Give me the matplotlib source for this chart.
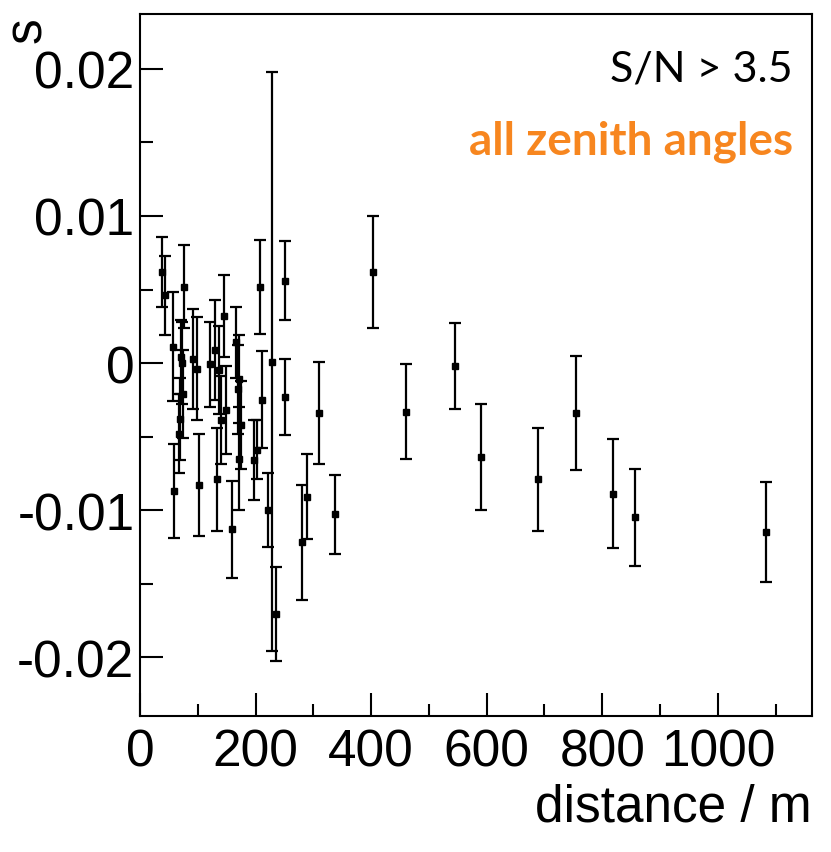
import matplotlib
matplotlib.use("Agg")
import matplotlib.pyplot as plt
from matplotlib.ticker import MultipleLocator, FuncFormatter

# distance / m
distance = [38, 44, 57, 59, 68, 70, 71, 73, 74, 77,
            92, 98, 102, 122, 130, 134, 136, 141, 146, 149,
            159, 166, 169, 172, 174, 171, 197, 202, 208, 211,
            221, 228, 235, 251, 251, 280, 289, 310, 338, 404,
            461, 546, 591, 689, 754, 819, 856, 1084]
# s values
s_value = [0.0062, 0.0046, 0.0011, -0.0087, -0.0048, -0.0038, 0.0004, 0.0000, -0.0021, 0.0052,
           0.0003, -0.0004, -0.0083, -0.0001, 0.0009, -0.0079, -0.0005, -0.0039, 0.0032, -0.0032,
           -0.0113, 0.0014, -0.0018, -0.0011, -0.0042, -0.0065, -0.0066, -0.0059, 0.0052, -0.0025,
           -0.0100, 0.0001, -0.0171, 0.0056, -0.0023, -0.0122, -0.0091, -0.0034, -0.0103, 0.0062,
           -0.0033, -0.0002, -0.0064, -0.0079, -0.0034, -0.0089, -0.0105, -0.0115]
# symmetric errors
s_error = [0.0024, 0.0027, 0.0037, 0.0032, 0.0027, 0.0028, 0.0025, 0.0028, 0.0030, 0.0028,
           0.0034, 0.0035, 0.0035, 0.0029, 0.0034, 0.0035, 0.0030, 0.0030, 0.0028, 0.0030,
           0.0033, 0.0024, 0.0030, 0.0030, 0.0030, 0.0035, 0.0027, 0.0020, 0.0032, 0.0033,
           0.0025, 0.0197, 0.0032, 0.0027, 0.0026, 0.0039, 0.0029, 0.0035, 0.0027, 0.0038,
           0.0032, 0.0029, 0.0036, 0.0035, 0.0039, 0.0037, 0.0033, 0.0034]

x_ticks = [0, 200, 400, 600, 800, 1000]
y_ticks = [-0.02, -0.01, 0, 0.01, 0.02]

plt.rcParams['font.family'] = ['Liberation Sans', 'DejaVu Sans']

fig = plt.figure(figsize=(8.31, 8.53), dpi=100)
ax = fig.add_axes([140/831, 1-717/853, 672/831, 702/853])

ax.errorbar(distance, s_value, yerr=s_error, fmt='s', color='black',
            ms=4.5, elinewidth=1.6, capsize=4.3, capthick=1.6)

ax.set_xlim(0, 1163)
ax.set_ylim(-0.02401, 0.02374)
ax.set_xticks(x_ticks)
ax.set_yticks(y_ticks)
ax.xaxis.set_minor_locator(MultipleLocator(100))
ax.yaxis.set_minor_locator(MultipleLocator(0.005))

def yfmt(v, pos):
    if abs(v) < 1e-12:
        return '0'
    return ('%.2f' % v)
ax.yaxis.set_major_formatter(FuncFormatter(yfmt))

ax.tick_params(which='both', direction='in', labelsize=37, width=1.5)
ax.tick_params(which='major', length=16.5)
ax.tick_params(which='minor', length=9)
ax.tick_params(axis='y', pad=4)
ax.tick_params(axis='x', pad=8)
for sp in ax.spines.values():
    sp.set_linewidth(1.5)

fig.text(28/831, 1-30/853, 's', rotation=90, fontsize=37, ha='center', va='center')
fig.text(812/831, 1-808/853, 'distance / m', fontsize=37, ha='right', va='center')

ax.text(793/831, 1-70/853, 'S/N > 3.5', transform=fig.transFigure, fontsize=31,
        family=['Lato', 'DejaVu Sans'], ha='right', va='center', color='black')
ax.text(793/831, 1-142/853, 'all zenith angles', transform=fig.transFigure, fontsize=33,
        family=['Lato', 'DejaVu Sans'], fontweight='bold', ha='right', va='center',
        color='#F7861F')

fig.savefig('out.png', dpi=100)
